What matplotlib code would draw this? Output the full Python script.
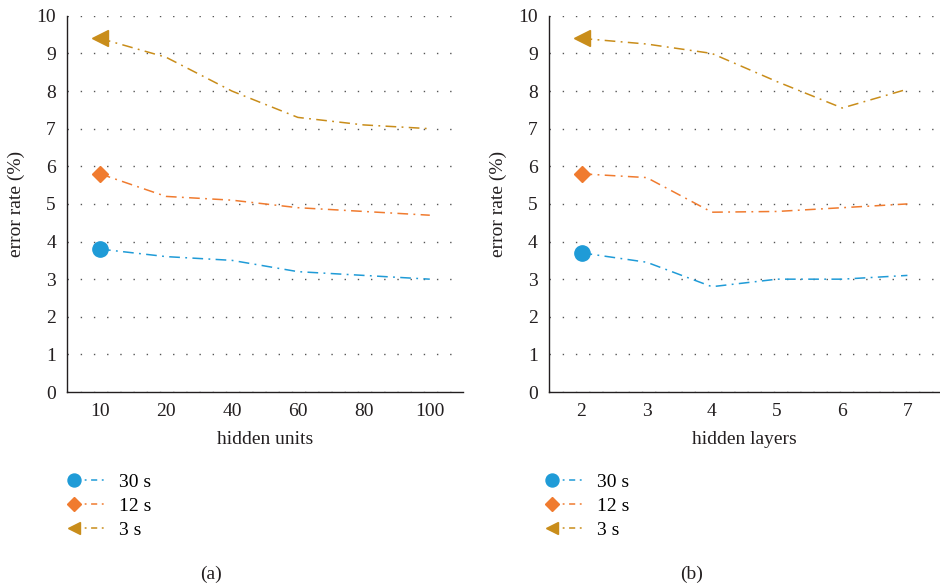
import numpy as np
import matplotlib.pyplot as plt
from matplotlib.legend_handler import HandlerLine2D
from matplotlib.lines import Line2D

plt.rcParams['font.family'] = ['Liberation Serif', 'DejaVu Serif']

# data
units = ['10', '20', '40', '60', '80', '100']
layers = ['2', '3', '4', '5', '6', '7']
labels = ['30 s', '12 s', '3 s']

units_30 = [3.8, 3.6, 3.5, 3.2, 3.1, 3.0]
units_12 = [5.8, 5.2, 5.1, 4.9, 4.8, 4.7]
units_3 = [9.4, 8.9, 8.0, 7.3, 7.1, 7.0]

layers_30 = [3.7, 3.45, 2.8, 3.0, 3.0, 3.1]
layers_12 = [5.8, 5.7, 4.78, 4.8, 4.9, 5.0]
layers_3 = [9.4, 9.25, 9.0, 8.25, 7.55, 8.05]

colors = ['#1f9bd7', '#f07b2f', '#c98d1a']
markers = ['o', 'D', '<']
msizes = [11, 8.5, 11]
dash = (0, (7, 3.5, 1.2, 3.5))
fs = 14
tc = '#231f20'


class LeftMarker(HandlerLine2D):
    # marker at the left end of the legend line instead of the middle
    def create_artists(self, legend, orig_handle, xdescent, ydescent, width, height, fontsize, trans):
        arts = super().create_artists(legend, orig_handle, xdescent, ydescent, width, height, fontsize, trans)
        for a in arts:
            a.set_markevery([0])
        return arts


fig = plt.figure(figsize=(9.4, 5.86), dpi=100)
ax1 = fig.add_axes([0.0713, 0.331, 0.421, 0.642])
ax2 = fig.add_axes([0.584, 0.331, 0.416, 0.642])


def panel(ax, cats, series, xlabel, cap, legx, capx):
    x = np.arange(len(cats))
    handles = []
    for i, s in enumerate(series):
        ax.plot(x, s, color=colors[i], lw=1.1, ls=dash)
        ax.plot(x[:1], s[:1], color=colors[i], marker=markers[i], ms=msizes[i], ls='none')
        handles.append(Line2D([], [], color=colors[i], lw=1.1, ls=(0, (4, 3, 1.2, 3)),
                              marker=markers[i], ms=msizes[i] * 0.85))
    ax.set_xlim(-0.5, len(cats) - 0.5)
    ax.set_ylim(0, 10)
    ax.set_xticks(x)
    ax.set_xticklabels(cats)
    ax.set_yticks(range(11))
    ax.tick_params(length=0, labelsize=fs, colors=tc, pad=8)
    ax.grid(axis='y', ls=(0, (1, 8.5)), color='#555555', lw=1)
    ax.set_axisbelow(True)
    for sp in ['top', 'right']:
        ax.spines[sp].set_visible(False)
    for sp in ['left', 'bottom']:
        ax.spines[sp].set_color(tc)
        ax.spines[sp].set_linewidth(1)
    ax.set_xlabel(xlabel, fontsize=fs, color=tc, labelpad=8)
    ax.set_ylabel('error rate (%)', fontsize=fs, color=tc, labelpad=8)
    fig.legend(handles, labels, loc='upper left', bbox_to_anchor=(legx, 0.222),
               frameon=False, fontsize=fs, handlelength=1.6, handletextpad=0.7,
               labelspacing=0.33, handler_map={Line2D: LeftMarker()})
    fig.text(capx, 0.012, cap, ha='center', fontsize=fs, color=tc)


panel(ax1, units, [units_30, units_12, units_3], 'hidden units', '(a)', 0.060, 0.224)
panel(ax2, layers, [layers_30, layers_12, layers_3], 'hidden layers', '(b)', 0.569, 0.736)

fig.savefig('out.png', dpi=100)
